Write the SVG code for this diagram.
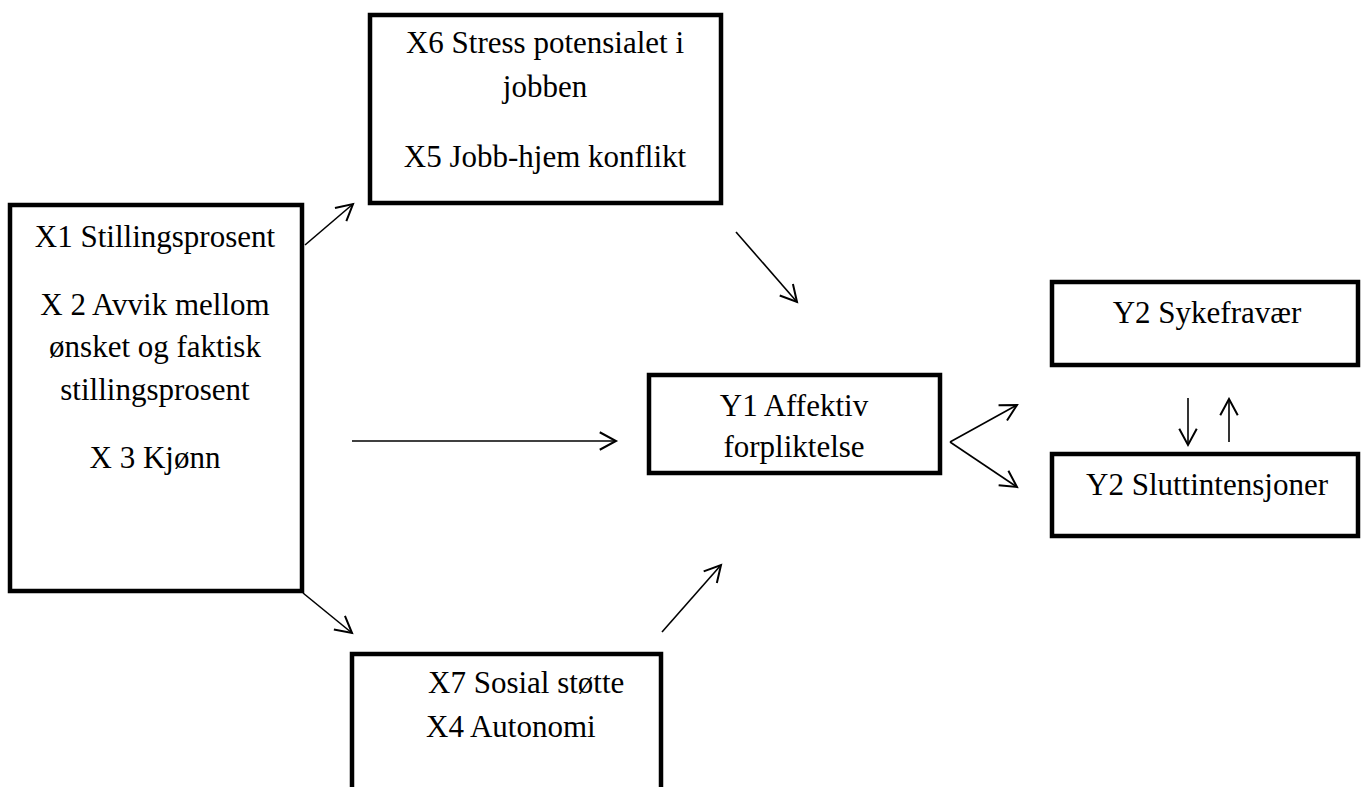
<svg xmlns="http://www.w3.org/2000/svg" width="1362" height="787" viewBox="0 0 1362 787">
<style>
.box{fill:#fff;stroke:#000;stroke-width:4.5}
.ln{stroke:#000;stroke-width:1.6;fill:none;marker-end:url(#ah)}
</style>
<defs>
<marker id="ah" markerUnits="userSpaceOnUse" markerWidth="20" markerHeight="20" refX="14" refY="8" orient="auto" viewBox="0 0 16 16">
<path d="M1,1 L14,8 L1,15" fill="none" stroke="#000" stroke-width="1.6"/>
</marker>
</defs>
<rect width="1362" height="787" fill="#fff"/>
<g id="connectors">
<line class="ln" x1="305" y1="245" x2="353" y2="204"/>
<line class="ln" x1="736" y1="232" x2="797" y2="302"/>
<line class="ln" x1="352" y1="441" x2="616" y2="441"/>
<line class="ln" x1="303" y1="593" x2="352" y2="633"/>
<line class="ln" x1="662" y1="632" x2="721" y2="565"/>
<line class="ln" x1="950" y1="442" x2="1017" y2="405"/>
<line class="ln" x1="950" y1="442" x2="1017" y2="487"/>
<line class="ln" x1="1188" y1="398" x2="1188" y2="445"/>
<line class="ln" x1="1229" y1="442" x2="1229" y2="399"/>
</g>
<g font-family="Liberation Serif, Tinos, DejaVu Serif, serif" font-size="31" fill="#000">
<g id="x1">
<rect class="box" x="10" y="205" width="292" height="386"/>
<g text-anchor="middle">
<text x="155" y="247">X1 Stillingsprosent</text>
<text x="155" y="315">X 2 Avvik mellom</text>
<text x="155" y="357">ønsket og faktisk</text>
<text x="155" y="400">stillingsprosent</text>
<text x="155" y="468">X 3 Kjønn</text>
</g>
</g>
<g id="x6">
<rect class="box" x="370" y="15" width="351" height="188"/>
<g text-anchor="middle">
<text x="545" y="53">X6 Stress potensialet i</text>
<text x="545" y="97">jobben</text>
<text x="545" y="167">X5 Jobb-hjem konflikt</text>
</g>
</g>
<g id="x7">
<rect class="box" x="352" y="654" width="309" height="160"/>
<text x="428" y="693">X7 Sosial støtte</text>
<text x="426" y="737">X4 Autonomi</text>
</g>
<g id="y1">
<rect class="box" x="649" y="375" width="291" height="98"/>
<g text-anchor="middle">
<text x="794" y="416">Y1 Affektiv</text>
<text x="794" y="457">forpliktelse</text>
</g>
</g>
<g id="y2a">
<rect class="box" x="1052" y="282" width="306" height="83"/>
<text x="1207" y="323" text-anchor="middle">Y2 Sykefravær</text>
</g>
<g id="y2b">
<rect class="box" x="1052" y="454" width="306" height="82"/>
<text x="1207" y="495" text-anchor="middle">Y2 Sluttintensjoner</text>
</g>
</g>
</svg>
